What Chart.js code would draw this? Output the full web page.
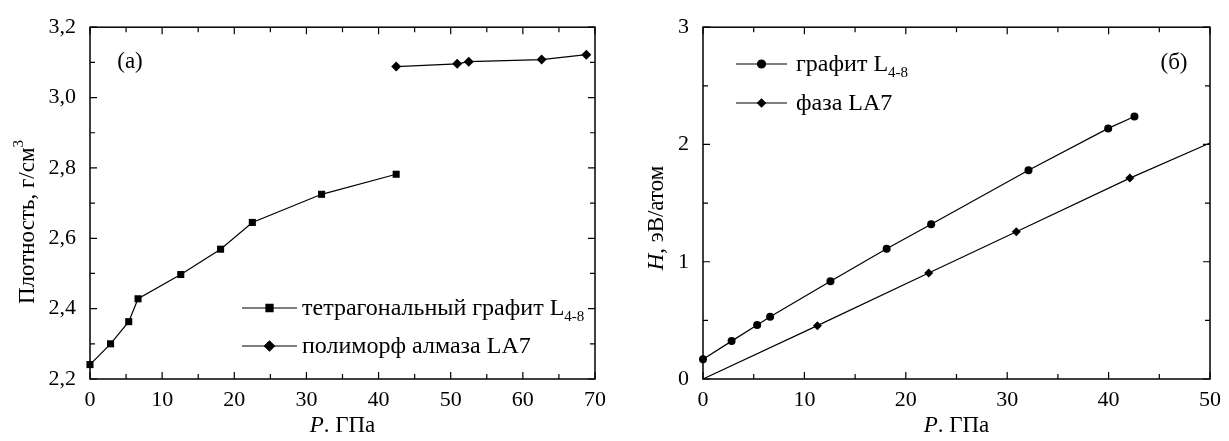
<!DOCTYPE html>
<html>
<head>
<meta charset="utf-8">
<script src="https://cdn.jsdelivr.net/npm/chart.js@4.4.1/dist/chart.umd.min.js"></script>
<style>
  body { margin: 0; background: #fff; }
  .panel { position: absolute; top: 0; height: 441px; }
</style>
</head>
<body>
<div class="panel" style="left:0;width:614px"><canvas id="densityChart"></canvas></div>
<div class="panel" style="left:614px;width:615px"><canvas id="enthalpyChart"></canvas></div>
<script>
// (a) плотность от давления
const densityTetraP = [0, 2.85, 5.37, 6.66, 12.58, 18.1, 22.5, 32.1, 42.44];
const densityTetra = [2.241, 2.30, 2.363, 2.428, 2.497, 2.569, 2.645, 2.725, 2.782];
const densityLA7P = [42.44, 50.9, 52.5, 62.6, 68.8];
const densityLA7 = [3.088, 3.096, 3.102, 3.108, 3.122];

// (б) энтальпия от давления
const enthalpyGraphP = [0, 2.82, 5.34, 6.62, 12.57, 18.11, 22.5, 32.1, 39.96, 42.55];
const enthalpyGraph = [0.169, 0.323, 0.46, 0.53, 0.834, 1.11, 1.32, 1.78, 2.137, 2.238];
const enthalpyLA7P = [0, 11.28, 22.26, 30.9, 42.1, 50];
const enthalpyLA7 = [0, 0.455, 0.904, 1.255, 1.713, 2.013];
const enthalpyLA7Marked = [false, true, true, true, true, false];

const serif = "'Liberation Serif', 'Times New Roman', serif";
const tickFont = { family: serif, size: 22 };

function toPoints(xs, ys) {
    return xs.map((x, i) => ({ x: x, y: ys[i] }));
}

// рамка и засечки внутрь со всех четырёх сторон
const framePlugin = {
    id: 'frame',
    beforeDatasetsDraw(chart, args, opts) {
        const ctx = chart.ctx;
        const a = chart.chartArea;
        const xs = chart.scales.x, ys = chart.scales.y;
        const isMajor = (scale, v) => scale.ticks.some(t => Math.abs(t.value - v) < 1e-6);
        ctx.save();
        ctx.strokeStyle = '#000';
        ctx.lineWidth = 1.5;
        ctx.strokeRect(a.left, a.top, a.right - a.left, a.bottom - a.top);
        ctx.lineWidth = 1.2;
        ctx.beginPath();
        let n = Math.round((xs.max - xs.min) / opts.xMinor);
        for (let i = 0; i <= n; i++) {
            const v = xs.min + i * opts.xMinor;
            const px = xs.getPixelForValue(v);
            const len = isMajor(xs, v) ? 7 : 5;
            ctx.moveTo(px, a.bottom); ctx.lineTo(px, a.bottom - len);
            ctx.moveTo(px, a.top); ctx.lineTo(px, a.top + len);
        }
        n = Math.round((ys.max - ys.min) / opts.yMinor);
        for (let i = 0; i <= n; i++) {
            const v = ys.min + i * opts.yMinor;
            const py = ys.getPixelForValue(v);
            const len = isMajor(ys, v) ? 7 : 5;
            ctx.moveTo(a.left, py); ctx.lineTo(a.left + len, py);
            ctx.moveTo(a.right, py); ctx.lineTo(a.right - len, py);
        }
        ctx.stroke();
        ctx.restore();
    }
};

function drawRuns(ctx, runs, x, y, align) {
    let total = 0;
    runs.forEach(r => { ctx.font = r.font; total += ctx.measureText(r.text).width; });
    let cx = align === 'center' ? x - total / 2 : x;
    ctx.textAlign = 'left';
    ctx.textBaseline = 'alphabetic';
    runs.forEach(r => {
        ctx.font = r.font;
        ctx.fillText(r.text, cx, y + (r.dy || 0));
        cx += ctx.measureText(r.text).width;
    });
}

function drawMarker(ctx, style, radius, x, y) {
    if (Chart.helpers && Chart.helpers.drawPoint) {
        Chart.helpers.drawPoint(ctx, { pointStyle: style, radius: radius, rotation: 0, borderWidth: 1 }, x, y);
        return;
    }
    ctx.beginPath();
    ctx.arc(x, y, radius, 0, Math.PI * 2);
    ctx.fill();
}

// подписи осей, метка панели и легенда
const labelsPlugin = {
    id: 'labels',
    afterDraw(chart, args, opts) {
        const ctx = chart.ctx;
        const a = chart.chartArea;
        ctx.save();
        ctx.fillStyle = '#000';
        ctx.strokeStyle = '#000';

        drawRuns(ctx, opts.xTitle, (a.left + a.right) / 2, opts.xTitleY, 'center');

        ctx.save();
        ctx.translate(opts.yTitleX, opts.yTitleMid);
        ctx.rotate(-Math.PI / 2);
        drawRuns(ctx, opts.yTitle, 0, 0, 'center');
        ctx.restore();

        drawRuns(ctx, [{ text: opts.panel.text, font: '23px ' + serif }], opts.panel.x, opts.panel.y, 'center');

        const lg = opts.legend;
        lg.items.forEach((item, i) => {
            const ds = chart.data.datasets[item.dataset];
            const y = lg.rows[i];
            ctx.lineWidth = 1.2;
            ctx.beginPath();
            ctx.moveTo(lg.x1, y);
            ctx.lineTo(lg.x2, y);
            ctx.stroke();
            ctx.fillStyle = '#000';
            drawMarker(ctx, ds.pointStyle, lg.markerRadius, (lg.x1 + lg.x2) / 2, y);
            drawRuns(ctx, item.runs, lg.textX, y + 7, 'left');
        });
        ctx.restore();
    }
};

function makeScales(xMin, xMax, xStep, yMin, yMax, yStep, yFormat, yWidth) {
    return {
        x: {
            type: 'linear', min: xMin, max: xMax,
            ticks: { stepSize: xStep, font: tickFont, color: '#000', padding: 8, maxRotation: 0 },
            grid: { display: false, drawTicks: false },
            border: { display: false },
            afterFit: s => { s.height = 62; }
        },
        y: {
            type: 'linear', min: yMin, max: yMax,
            ticks: { stepSize: yStep, font: tickFont, color: '#000', padding: 14, callback: yFormat },
            grid: { display: false, drawTicks: false },
            border: { display: false },
            afterFit: s => { s.width = yWidth; }
        }
    };
}

const mainFont = '23px ' + serif;
const italicFont = 'italic 23px ' + serif;
const subFont = '15px ' + serif;
const legendFont = '24px ' + serif;

// (a)
new Chart(document.getElementById('densityChart'), {
    type: 'scatter',
    data: {
        datasets: [{
            label: 'тетрагональный графит L4-8',
            data: toPoints(densityTetraP, densityTetra),
            showLine: true,
            borderColor: '#000', backgroundColor: '#000', borderWidth: 1.2,
            pointStyle: 'rect', pointRadius: 5, pointBorderWidth: 0,
            clip: false
        }, {
            label: 'полиморф алмаза LA7',
            data: toPoints(densityLA7P, densityLA7),
            showLine: true,
            borderColor: '#000', backgroundColor: '#000', borderWidth: 1.2,
            pointStyle: 'rectRot', pointRadius: 5, pointBorderWidth: 0,
            clip: false
        }]
    },
    options: {
        responsive: true,
        maintainAspectRatio: false,
        animation: false,
        layout: { padding: { top: 23, right: 16, left: 0, bottom: 0 } },
        scales: makeScales(0, 70, 10, 2.2, 3.2, 0.2, v => v.toFixed(1).replace('.', ','), 90),
        plugins: {
            legend: { display: false },
            tooltip: { enabled: false },
            frame: { xMinor: 5, yMinor: 0.1 },
            labels: {
                xTitle: [{ text: 'P', font: italicFont }, { text: '. ГПа', font: mainFont }],
                xTitleY: 432,
                yTitle: [{ text: 'Плотность, г/см', font: mainFont }, { text: '3', font: subFont, dy: -11 }],
                yTitleX: 34,
                yTitleMid: 222,
                panel: { text: '(a)', x: 130, y: 68 },
                legend: {
                    x1: 242, x2: 297, textX: 302, rows: [308, 346], markerRadius: 5,
                    items: [
                        { dataset: 0, runs: [{ text: 'тетрагональный графит L', font: legendFont }, { text: '4-8', font: subFont, dy: 6 }] },
                        { dataset: 1, runs: [{ text: 'полиморф алмаза LA7', font: legendFont }] }
                    ]
                }
            }
        }
    },
    plugins: [framePlugin, labelsPlugin]
});

// (б)
new Chart(document.getElementById('enthalpyChart'), {
    type: 'scatter',
    data: {
        datasets: [{
            label: 'графит L4-8',
            data: toPoints(enthalpyGraphP, enthalpyGraph),
            showLine: true,
            borderColor: '#000', backgroundColor: '#000', borderWidth: 1.2,
            pointStyle: 'circle', pointRadius: 4, pointBorderWidth: 0,
            clip: false
        }, {
            label: 'фаза LA7',
            data: toPoints(enthalpyLA7P, enthalpyLA7),
            showLine: true,
            borderColor: '#000', backgroundColor: '#000', borderWidth: 1.2,
            pointStyle: 'rectRot', pointRadius: enthalpyLA7Marked.map(m => m ? 4.5 : 0), pointBorderWidth: 0,
            clip: false
        }]
    },
    options: {
        responsive: true,
        maintainAspectRatio: false,
        animation: false,
        layout: { padding: { top: 23, right: 18, left: 0, bottom: 0 } },
        scales: makeScales(0, 50, 10, 0, 3, 1, v => v, 89),
        plugins: {
            legend: { display: false },
            tooltip: { enabled: false },
            frame: { xMinor: 5, yMinor: 0.5 },
            labels: {
                xTitle: [{ text: 'P', font: italicFont }, { text: '. ГПа', font: mainFont }],
                xTitleY: 432,
                yTitle: [{ text: 'H', font: italicFont }, { text: ', эВ/атом', font: mainFont }],
                yTitleX: 49,
                yTitleMid: 218,
                panel: { text: '(б)', x: 560, y: 69 },
                legend: {
                    x1: 122, x2: 173, textX: 182, rows: [64, 103], markerRadius: 4,
                    items: [
                        { dataset: 0, runs: [{ text: 'графит L', font: legendFont }, { text: '4-8', font: subFont, dy: 6 }] },
                        { dataset: 1, runs: [{ text: 'фаза LA7', font: legendFont }] }
                    ]
                }
            }
        }
    },
    plugins: [framePlugin, labelsPlugin]
});
</script>
</body>
</html>
